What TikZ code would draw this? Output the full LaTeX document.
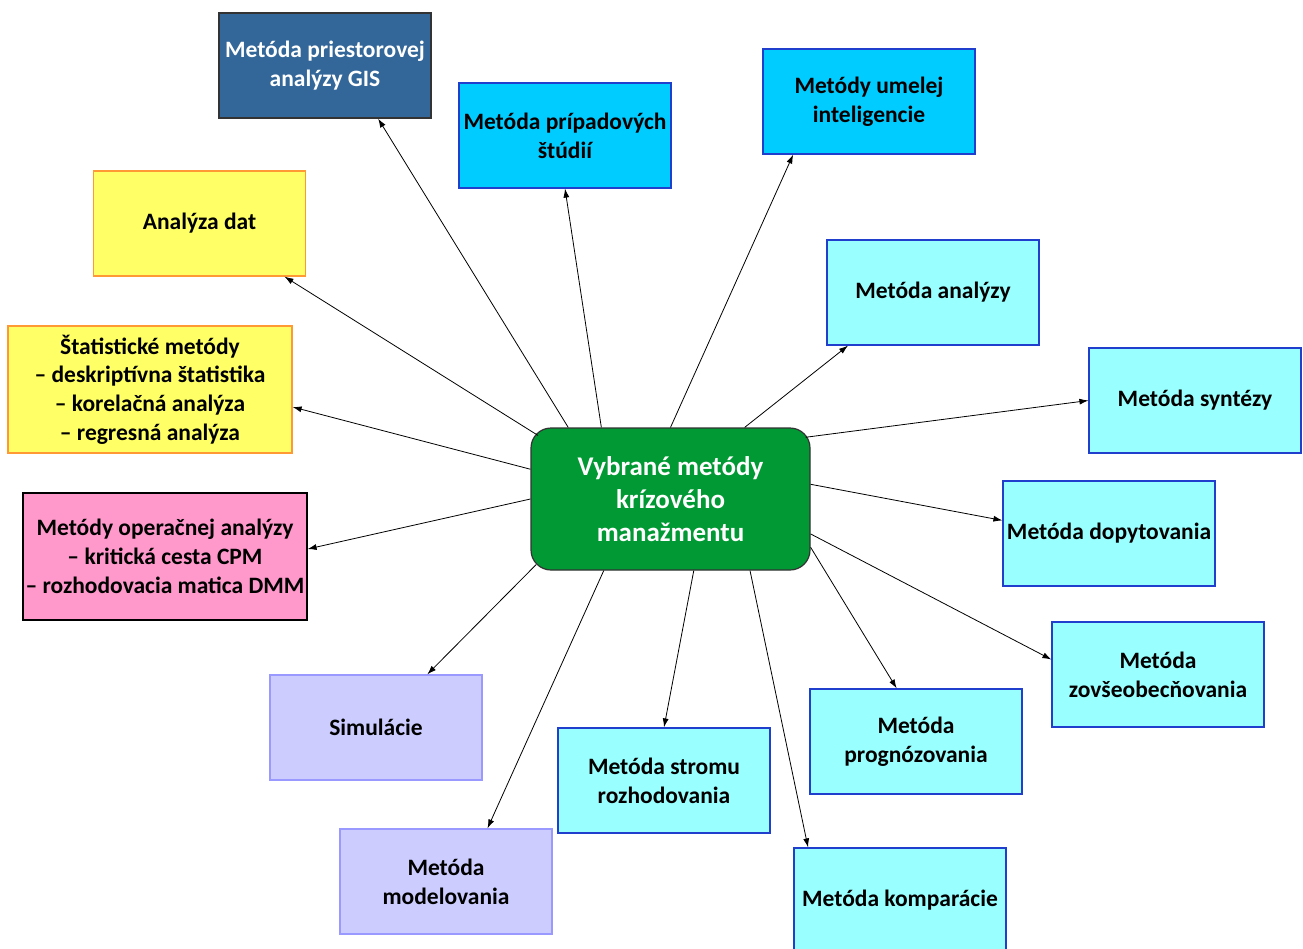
\documentclass[tikz,border=0pt]{standalone}
\usepackage{fontspec}
\setmainfont{Carlito}
\usepackage{tikz}
\usetikzlibrary{arrows.meta}
\definecolor{gisblue}{HTML}{336699}
\definecolor{skycyan}{HTML}{00CCFF}
\definecolor{aqua}{HTML}{99FFFF}
\definecolor{lemon}{HTML}{FFFF66}
\definecolor{apricot}{HTML}{FF9933}
\definecolor{rosy}{HTML}{FF99CC}
\definecolor{lilac}{HTML}{CCCCFF}
\definecolor{lilacline}{HTML}{9999FF}
\definecolor{boxblue}{HTML}{1F3FCC}
\definecolor{crisis}{HTML}{009933}
\tikzset{
  box/.style={rectangle, draw, line width=1.2pt, inner sep=0pt, align=center,
    minimum width=212pt, minimum height=105pt,
    font=\fontsize{23.5}{28.7}\selectfont\bfseries},
  darkbox/.style={box, fill=gisblue, draw=black!80, text=white},
  cyanbox/.style={box, fill=skycyan, draw=boxblue},
  aquabox/.style={box, fill=aqua, draw=boxblue},
  yellowbox/.style={box, fill=lemon, draw=apricot},
  yellowwide/.style={yellowbox, minimum width=284pt, minimum height=127pt},
  pinkwide/.style={box, fill=rosy, draw=black, minimum width=284pt, minimum height=127pt},
  lilacbox/.style={box, fill=lilac, draw=lilacline},
  conn/.style={line width=0.8pt, -{Latex[length=9pt,width=6pt]}}
}

\begin{document}
\begin{tikzpicture}[x=1pt,y=-1pt]
    \useasboundingbox (0,0) rectangle (1303,948);
    \node[draw=black!80, line width=1.2pt, fill=crisis, rounded corners=20pt,
      minimum width=279pt, minimum height=142pt, inner sep=0pt, align=center,
      text=white, font=\fontsize{27}{33}\selectfont\bfseries]
      (c) at (670.5,499) {Vybrané metódy\\krízového\\manažmentu};
    \foreach \x/\y/\lab/\sty/\tx in {
      325/65.5/gis/darkbox/{Metóda priestorovej\\analýzy GIS},
      565/135.5/pripady/cyanbox/{Metóda prípadových\\štúdií},
      869/101.5/ai/cyanbox/{Metódy umelej\\inteligencie},
      933/292.5/analyza/aquabox/{Metóda analýzy},
      1195/400.5/synteza/aquabox/{Metóda syntézy},
      1109/533.5/dopyt/aquabox/{Metóda dopytovania},
      1158/674.5/zovseob/aquabox/{Metóda\\zovšeobecňovania},
      916/741.5/prognoza/aquabox/{Metóda\\prognózovania},
      900/900.5/komparacia/aquabox/{Metóda komparácie},
      664/780.5/strom/aquabox/{Metóda stromu\\rozhodovania},
      446/881.5/model/lilacbox/{Metóda\\modelovania},
      376/727.5/simul/lilacbox/{Simulácie},
      165/556.5/operacna/pinkwide/{Metódy operačnej analýzy\\– kritická cesta CPM\\– rozhodovacia matica DMM},
      150/389.5/stat/yellowwide/{Štatistické metódy\\– deskriptívna štatistika\\– korelačná analýza\\– regresná analýza},
      199.5/223.5/data/yellowbox/{Analýza dat}%
    } {
      \node[\sty] (\lab) at (\x,\y) {\tx};
    }
    \foreach \s/\t/\ta/\sh in {
      145/gis/315/0, 134/pripady/270/0, 90/ai/215/0, 44/analyza/212/0,
      24/synteza/180/-5, 6/dopyt/173/0, 346/zovseob/172/0, 341/prognoza/110/0,
      318/komparacia/150/0, 288/strom/90/0, 227/model/52/0, 207/simul/46/-8,
      180/operacna/3/0, 168/stat/353/0, 154/data/328/-9%
    } {
      \draw[conn, shorten <=\sh pt] (c.\s) -- (\t.\ta);
    }
\end{tikzpicture}
\end{document}
